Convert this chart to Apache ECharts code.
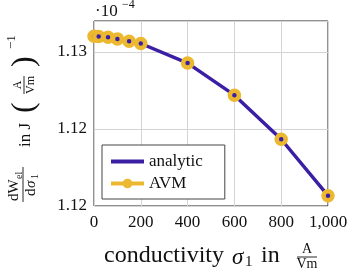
<!DOCTYPE html>
<html><head><meta charset="utf-8">
<script src="https://cdn.jsdelivr.net/npm/echarts@6/dist/echarts.min.js"></script>
<style>html,body{margin:0;padding:0;background:#fff}#c{width:357px;height:277px}</style>
</head><body><div id="c"></div>
<script>
const sigma = [0, 20, 60, 100, 150, 200, 400, 600, 800, 1000];
const analytic = [1.13101, 1.13099, 1.13095, 1.13084, 1.13069, 1.13054, 1.12927, 1.12719, 1.12433, 1.12067];
const avm = [1.13101, 1.13099, 1.13095, 1.13084, 1.13069, 1.13054, 1.12927, 1.12719, 1.12433, 1.12067];
const xTicks = [0, 200, 400, 600, 800, 1000];
const xTickLabels = ['0', '200', '400', '600', '800', '1,000'];
const yTicks = [1.12, 1.125, 1.13];
const yTickLabels = ['1.12', '1.12', '1.13'];

const BLUE = '#3a1fa5', YEL = '#ECB830', SERIF = 'Liberation Serif';
const chart = echarts.init(document.getElementById('c'), null, {renderer: 'canvas'});
function lab(ticks, labels) {
  return v => { for (let i = 0; i < ticks.length; i++) if (Math.abs(v - ticks[i]) < 1e-7) return labels[i]; return ''; };
}
function T(x, y, text, size, extra) {
  return {type: 'text', x: x, y: y, style: Object.assign({text: text, fill: '#111', font: size + 'px "' + SERIF + '"', textVerticalAlign: 'middle'}, extra || {})};
}
function L(x1, y1, x2, y2) {
  return {type: 'line', shape: {x1: x1, y1: y1, x2: x2, y2: y2}, style: {stroke: '#111', lineWidth: 0.9}};
}
chart.setOption({
  animation: false,
  grid: {left: 94, top: 21, right: 29, bottom: 71, show: true, borderColor: '#222', borderWidth: 1, backgroundColor: 'transparent'},
  xAxis: {type: 'value', min: 0, max: 1000, interval: 200,
    axisLine: {show: false}, axisTick: {show: false},
    splitLine: {show: true, lineStyle: {color: '#d4d4d4', width: 1}},
    axisLabel: {margin: 8, color: '#111', fontFamily: SERIF, fontSize: 17, formatter: lab(xTicks, xTickLabels)}},
  yAxis: {type: 'value', min: 1.12, max: 1.132, interval: 0.005,
    axisLine: {show: false}, axisTick: {show: false},
    splitLine: {show: true, lineStyle: {color: '#d4d4d4', width: 1}},
    axisLabel: {margin: 7, color: '#111', fontFamily: SERIF, fontSize: 17, showMaxLabel: false, formatter: lab(yTicks, yTickLabels)}},
  legend: {orient: 'vertical', left: 102, top: 145, padding: [8, 22, 7, 7],
    itemWidth: 33, itemHeight: 12, itemGap: 5, itemTextGap: 6,
    backgroundColor: '#fff', borderColor: '#444', borderWidth: 1, borderRadius: 0,
    textStyle: {fontFamily: SERIF, fontSize: 17, color: '#111'},
    data: [
      {name: 'analytic', itemStyle: {opacity: 0}, lineStyle: {color: BLUE, width: 4}},
      {name: 'AVM', itemStyle: {color: YEL, borderWidth: 0}, lineStyle: {color: YEL, width: 4, opacity: 1}}
    ]},
  series: [
    {name: 'analytic', type: 'line', z: 2, data: sigma.map((s, i) => [s, analytic[i]]),
      symbol: 'none', lineStyle: {color: BLUE, width: 3.5}, itemStyle: {color: BLUE}},
    {name: 'AVM', type: 'line', z: 3, data: sigma.map((s, i) => [s, avm[i]]),
      symbol: 'circle', symbolSize: 9, showAllSymbol: true,
      lineStyle: {width: 0, opacity: 0, color: YEL},
      itemStyle: {color: BLUE, borderColor: YEL, borderWidth: 4.5, opacity: 1}}
  ],
  graphic: [
    T(95, 12, '·10', 17),
    T(122, 5, '−4', 12),
    T(104, 256, 'conductivity', 24),
    T(232, 258, 'σ', 23, {font: 'italic 23px "' + SERIF + '"'}),
    T(245, 262, '1', 15),
    T(261, 256, 'in', 24),
    T(307, 249, 'A', 14, {textAlign: 'center'}),
    L(297, 257, 317, 257),
    T(307, 264, 'Vm', 14, {textAlign: 'center'}),
    {type: 'group', x: 0, y: 205, rotation: Math.PI / 2, children: [
      T(4, 14, 'dW', 15),
      T(26, 19, 'el', 10),
      L(3, 23, 38, 23),
      T(9, 31, 'd', 15),
      T(17, 31, 'σ', 15, {font: 'italic 15px "' + SERIF + '"'}),
      T(26, 35, '1', 10),
      T(58, 26, 'in J', 17),
      T(92, 25, '(', 32, {font: '32px "' + SERIF + '"'}),
      T(120, 18, 'A', 12, {textAlign: 'center'}),
      L(111, 24, 129, 24),
      T(120, 31, 'Vm', 12, {textAlign: 'center'}),
      T(138, 25, ')', 32, {font: '32px "' + SERIF + '"'}),
      T(156, 12, '−1', 13)
    ]}
  ]
});
</script></body></html>
